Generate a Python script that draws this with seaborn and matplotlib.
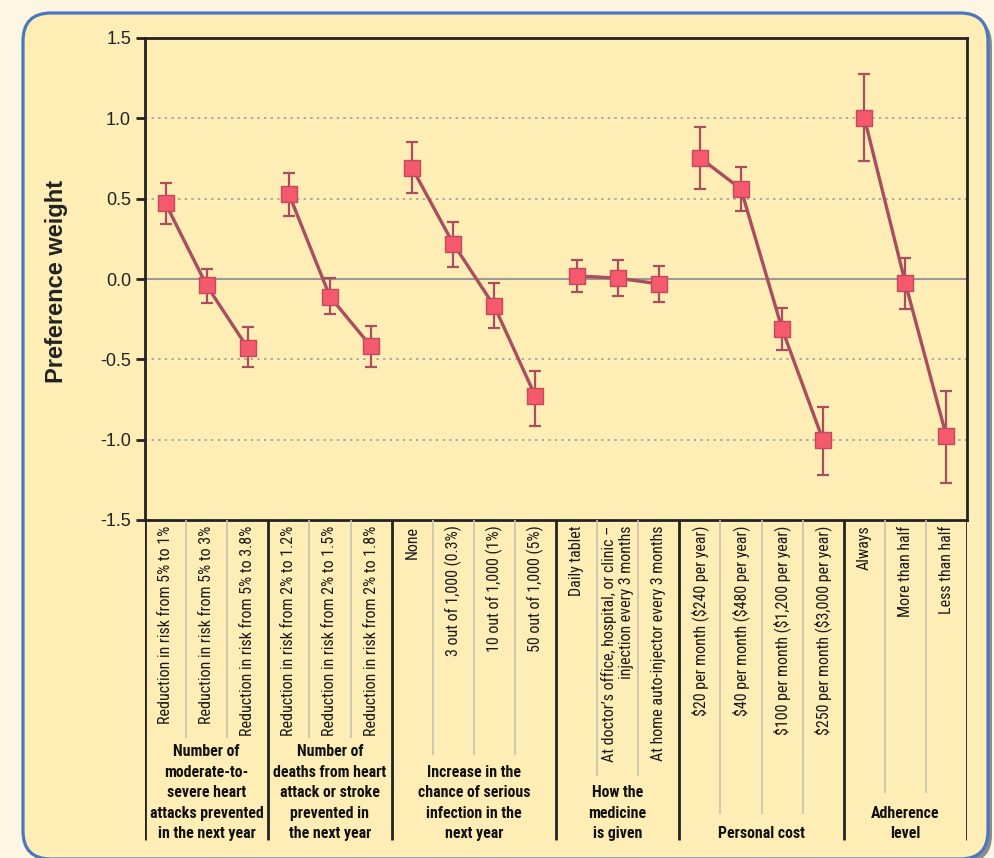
import numpy as np
import pandas as pd
import matplotlib
matplotlib.use("Agg")
import matplotlib.pyplot as plt
from matplotlib import font_manager as fm
from matplotlib.patches import FancyBboxPatch
import seaborn as sns

# ---------------- data ----------------
group_names = [
    "Number of\nmoderate-to-\nsevere heart\nattacks prevented\nin the next year",
    "Number of\ndeaths from heart\nattack or stroke\nprevented in\nthe next year",
    "Increase in the\nchance of serious\ninfection in the\nnext year",
    "How the\nmedicine\nis given",
    "Personal cost",
    "Adherence\nlevel",
]
group_sizes = [3, 3, 4, 3, 4, 3]
levels = [
    "Reduction in risk from 5% to 1%",
    "Reduction in risk from 5% to 3%",
    "Reduction in risk from 5% to 3.8%",
    "Reduction in risk from 2% to 1.2%",
    "Reduction in risk from 2% to 1.5%",
    "Reduction in risk from 2% to 1.8%",
    "None",
    "3 out of 1,000 (0.3%)",
    "10 out of 1,000 (1%)",
    "50 out of 1,000 (5%)",
    "Daily tablet",
    "At doctor\u2019s office, hospital, or clinic \u2013\ninjection every 3 months",
    "At home auto-injector every 3 months",
    "$20 per month ($240 per year)",
    "$40 per month ($480 per year)",
    "$100 per month ($1,200 per year)",
    "$250 per month ($3,000 per year)",
    "Always",
    "More than half",
    "Less than half",
]
weights = [0.47, -0.04, -0.43, 0.53, -0.11, -0.42, 0.69, 0.22, -0.17, -0.73,
           0.02, 0.005, -0.03, 0.755, 0.56, -0.31, -1.005, 1.005, -0.025, -0.98]
ci_low = [0.34, -0.15, -0.55, 0.39, -0.22, -0.55, 0.535, 0.075, -0.305, -0.915,
          -0.08, -0.105, -0.145, 0.56, 0.425, -0.44, -1.22, 0.735, -0.185, -1.27]
ci_high = [0.60, 0.065, -0.30, 0.66, 0.005, -0.29, 0.85, 0.355, -0.025, -0.57,
           0.12, 0.12, 0.08, 0.945, 0.70, -0.18, -0.795, 1.275, 0.13, -0.70]
y_ticks = [-1.5, -1.0, -0.5, 0.0, 0.5, 1.0, 1.5]

group_of = [g for g, n in enumerate(group_sizes) for _ in range(n)]
df = pd.DataFrame({
    "pos": np.arange(len(levels)),
    "level": levels,
    "weight": weights,
    "lo": ci_low,
    "hi": ci_high,
    "group": group_of,
})

# ---------------- style ----------------
names = {f.name for f in fm.fontManager.ttflist}
narrow_name = None
for cand in ["Liberation Sans Narrow", "Arial Narrow", "Roboto Condensed"]:
    if cand in names:
        narrow_name = cand
        break

sns.set_style("ticks")
plt.rcParams["font.family"] = ["Liberation Sans", "DejaVu Sans"]
plt.rcParams["axes.unicode_minus"] = False
plt.rcParams["text.parse_math"] = False

if narrow_name:
    tick_font = dict(family=[narrow_name, "Liberation Sans"], fontsize=11.5)
    grp_font = dict(family=[narrow_name, "Liberation Sans"], fontsize=11.4,
                    fontweight="bold", linespacing=1.45)
else:
    tick_font = dict(family=["Liberation Sans", "DejaVu Sans"], fontsize=10.0)
    grp_font = dict(family=["Liberation Sans", "DejaVu Sans"], fontsize=10.0,
                    fontweight="bold", linespacing=1.74)

BG_OUT = "#fdf6e3"
BG_BOX = "#ffedb6"
LINE_C = "#a94e5e"
MARK_C = "#f45a6c"
MARK_E = "#c24a5e"

W, H = 994, 858
fig = plt.figure(figsize=(W / 100, H / 100), dpi=100, facecolor=BG_OUT)

# background rounded box
bg = fig.add_axes([0, 0, 1, 1], zorder=-5)
bg.set_xlim(0, W)
bg.set_ylim(H, 0)
bg.axis("off")
bg.add_patch(FancyBboxPatch((27, 17), 965, 846, boxstyle="round,pad=0,rounding_size=28",
                            fc="#8c8c8c", ec="none"))
bg.add_patch(FancyBboxPatch((23, 13), 965, 846, boxstyle="round,pad=0,rounding_size=28",
                            fc=BG_BOX, ec="#4a78c0", lw=2.3))

# main axes
L, R, T, B = 145, 967, 38, 520
ax = fig.add_axes([L / W, (H - B) / H, (R - L) / W, (B - T) / H])
ax.set_facecolor("none")

# grid lines
for v in [-1.0, -0.5, 0.5, 1.0]:
    ax.axhline(v, color="#a9a9a9", lw=1.4, ls=(0, (1.2, 2.2)), zorder=0)
ax.axhline(0, color="#9a9a9a", lw=1.5, zorder=0)

# connecting lines within each attribute group
sns.lineplot(data=df, x="pos", y="weight", units="group", estimator=None,
             color=LINE_C, lw=2.4, ax=ax, zorder=2, legend=False)
# error bars
ax.errorbar(df["pos"], df["weight"],
            yerr=[df["weight"] - df["lo"], df["hi"] - df["weight"]],
            fmt="none", ecolor=LINE_C, elinewidth=1.6, capsize=4.3, capthick=1.6, zorder=3)
# square markers
sns.scatterplot(data=df, x="pos", y="weight", marker="s", s=125, color=MARK_C,
                edgecolor=MARK_E, linewidth=1.0, ax=ax, zorder=4, legend=False)

ax.set_xlim(-0.5, len(levels) - 0.5)
ax.set_ylim(-1.5, 1.5)
ax.set_yticks(y_ticks)
ax.set_yticklabels([f"{t:.1f}" for t in y_ticks], fontsize=13, color="#222222")
ax.tick_params(axis="y", length=6.5, width=2, pad=3.5, color="#222222")
ax.set_xticks(df["pos"])
ax.set_xticklabels(df["level"], rotation=90, multialignment="right",
                   color="#1a1a1a", **tick_font)
ax.tick_params(axis="x", length=0, pad=4)
ax.set_xlabel("")
ax.set_ylabel("Preference weight", fontsize=17, fontweight="bold", va="center",
              color="#222222")
ax.yaxis.set_label_coords((56 - L) / (R - L), 0.495)
for s in ax.spines.values():
    s.set_visible(True)
    s.set_color("#222222")
    s.set_linewidth(2)

# label area below the axis: separators and attribute names
ax2 = fig.add_axes([L / W, (H - 842) / H, (R - L) / W, (842 - B) / H])
ax2.set_xlim(-0.5, len(levels) - 0.5)
ax2.set_ylim(842 - B, 0)
ax2.axis("off")
ax2.patch.set_visible(False)

thin_depth = [218, 218, 235, 256, 294, 273]
start = 0
ax2.vlines(-0.5, 0, 320, color="#222222", lw=2)
for g, n in enumerate(group_sizes):
    end = start + n
    inner = [i - 0.5 for i in range(start + 1, end)]
    ax2.vlines(inner, 0, thin_depth[g], color="#c6c2b2", lw=1.2)
    ax2.vlines(end - 0.5, 0, 320, color="#222222", lw=2)
    ax2.text((start + end - 1) / 2, 321, group_names[g], ha="center", va="bottom",
             multialignment="center", color="#111111", **grp_font)
    start = end

fig.savefig("out.png", dpi=100, facecolor=BG_OUT)
